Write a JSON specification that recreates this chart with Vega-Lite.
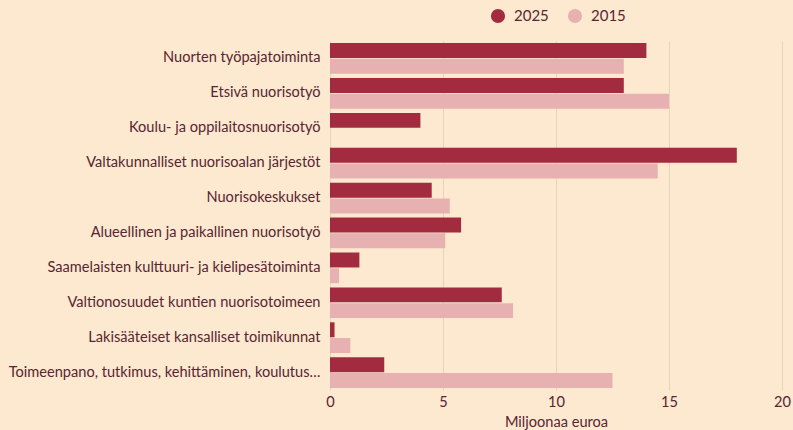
{
  "$schema": "https://vega.github.io/schema/vega-lite/v6.json",
  "autosize": {"type": "none"},
  "width": 452,
  "height": 349,
  "padding": {"left": 330, "top": 41, "right": 11, "bottom": 40},
  "background": "#fce9cf",
  "config": {
    "view": {"stroke": null},
    "font": "Lato",
    "axis": {"labelFont": "Lato", "titleFont": "Lato", "labelColor": "#5a2433", "titleColor": "#5a2433"},
    "legend": {"labelFont": "Lato", "labelColor": "#5a2433"}
  },
  "data": {
    "values": [
      {"kohde": "Nuorten työpajatoiminta", "vuosi": "2025", "arvo": 14.0},
      {"kohde": "Nuorten työpajatoiminta", "vuosi": "2015", "arvo": 13.0},
      {"kohde": "Etsivä nuorisotyö", "vuosi": "2025", "arvo": 13.0},
      {"kohde": "Etsivä nuorisotyö", "vuosi": "2015", "arvo": 15.0},
      {"kohde": "Koulu- ja oppilaitosnuorisotyö", "vuosi": "2025", "arvo": 4.0},
      {"kohde": "Valtakunnalliset nuorisoalan järjestöt", "vuosi": "2025", "arvo": 18.0},
      {"kohde": "Valtakunnalliset nuorisoalan järjestöt", "vuosi": "2015", "arvo": 14.5},
      {"kohde": "Nuorisokeskukset", "vuosi": "2025", "arvo": 4.5},
      {"kohde": "Nuorisokeskukset", "vuosi": "2015", "arvo": 5.3},
      {"kohde": "Alueellinen ja paikallinen nuorisotyö", "vuosi": "2025", "arvo": 5.8},
      {"kohde": "Alueellinen ja paikallinen nuorisotyö", "vuosi": "2015", "arvo": 5.1},
      {"kohde": "Saamelaisten kulttuuri- ja kielipesätoiminta", "vuosi": "2025", "arvo": 1.3},
      {"kohde": "Saamelaisten kulttuuri- ja kielipesätoiminta", "vuosi": "2015", "arvo": 0.4},
      {"kohde": "Valtionosuudet kuntien nuorisotoimeen", "vuosi": "2025", "arvo": 7.6},
      {"kohde": "Valtionosuudet kuntien nuorisotoimeen", "vuosi": "2015", "arvo": 8.1},
      {"kohde": "Lakisääteiset kansalliset toimikunnat", "vuosi": "2025", "arvo": 0.2},
      {"kohde": "Lakisääteiset kansalliset toimikunnat", "vuosi": "2015", "arvo": 0.9},
      {"kohde": "Toimeenpano, tutkimus, kehittäminen, koulutus…", "vuosi": "2025", "arvo": 2.4},
      {"kohde": "Toimeenpano, tutkimus, kehittäminen, koulutus…", "vuosi": "2015", "arvo": 12.5}
    ]
  },
  "mark": {"type": "bar"},
  "encoding": {
    "y": {
      "field": "kohde", "type": "nominal", "sort": null,
      "scale": {"paddingInner": 0.12, "paddingOuter": 0.06},
      "axis": {"title": null, "ticks": false, "domain": false, "labelFontSize": 14.6, "labelPadding": 10, "labelLimit": 400}
    },
    "yOffset": {
      "field": "vuosi", "type": "nominal", "sort": ["2025", "2015"],
      "scale": {"paddingInner": 0.05}
    },
    "x": {
      "field": "arvo", "type": "quantitative",
      "scale": {"domain": [0, 20], "nice": false},
      "axis": {"title": "Miljoonaa euroa", "values": [0, 5, 10, 15, 20], "ticks": false, "domain": false,
               "grid": true, "gridColor": "#e6d3bb", "gridWidth": 1, "labelFlush": false,
               "labelFontSize": 14.6, "labelPadding": 4, "titleFontSize": 14.6, "titleFontWeight": "normal", "titlePadding": 6}
    },
    "color": {
      "field": "vuosi", "type": "nominal",
      "scale": {"domain": ["2025", "2015"], "range": ["#a22b3f", "#e8b1b1"]},
      "legend": {"title": null, "orient": "none", "direction": "horizontal", "legendX": 160, "legendY": -33,
                 "symbolType": "circle", "symbolSize": 200, "symbolOpacity": 1, "labelFontSize": 15,
                 "columnPadding": 18, "labelOffset": 8}
    }
  }
}
